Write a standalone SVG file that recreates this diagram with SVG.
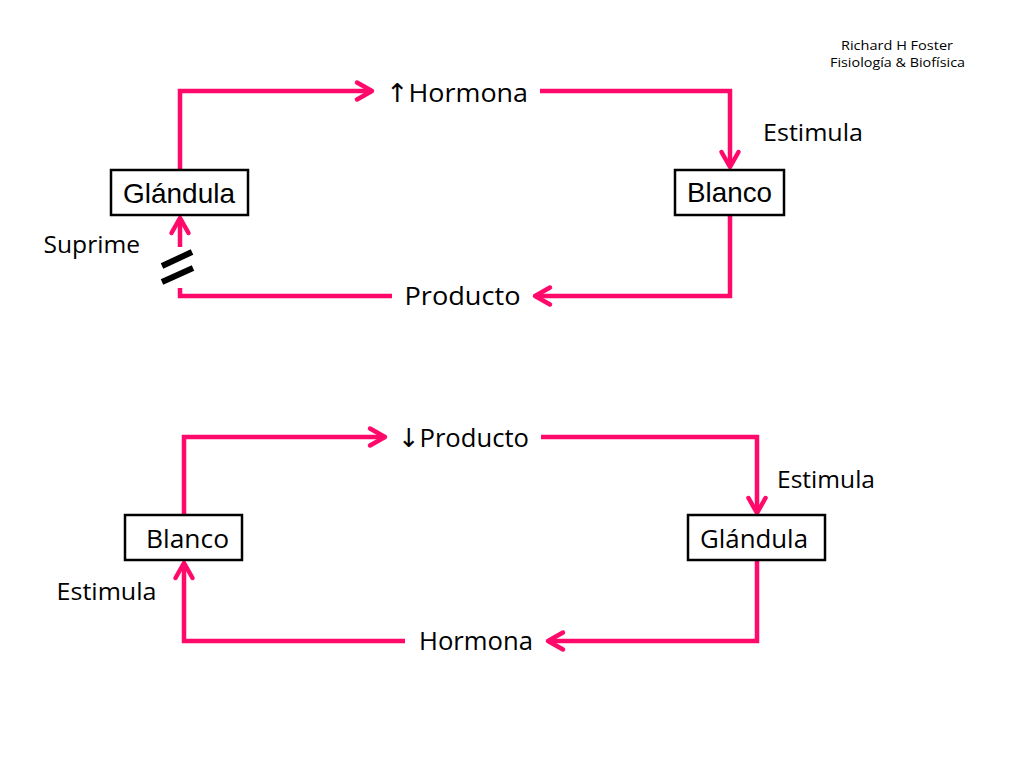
<svg xmlns="http://www.w3.org/2000/svg" width="1024" height="768" viewBox="0 0 1024 768">
  <style>
    .box { fill: #ffffff; stroke: #000000; stroke-width: 2.5; }
    .helv { font-family: "Liberation Sans", Arial, sans-serif; font-size: 28px; fill: #000000; }
    .comic { font-family: "Open Sans", "DejaVu Sans", sans-serif; fill: #000000; }
    .conn { fill: none; stroke: #FF0A6A; stroke-width: 4.5; stroke-linejoin: miter; }
    .hash { stroke: #000000; stroke-width: 6; }
  </style>
  <defs>
    <marker id="ah" markerUnits="userSpaceOnUse" markerWidth="40" markerHeight="40" viewBox="-20 -20 40 40" refX="0" refY="0" orient="auto" overflow="visible">
      <path d="M-15 -8.5 L0 0 L-15 8.5" fill="none" stroke="#FF0A6A" stroke-width="4.5" stroke-linecap="round" stroke-linejoin="round"/>
    </marker>
  </defs>
  <rect width="1024" height="768" fill="#ffffff"/>

  <g id="credit">
    <text class="comic" x="897" y="49.5" font-size="12.5" text-anchor="middle" textLength="112" lengthAdjust="spacingAndGlyphs">Richard H Foster</text>
    <text class="comic" x="897.5" y="67" font-size="12.5" text-anchor="middle" textLength="135" lengthAdjust="spacingAndGlyphs">Fisiología &amp; Biofísica</text>
  </g>

  <g id="connectors">
    <path class="conn" d="M180 170 V91 H372" marker-end="url(#ah)"/>
    <path class="conn" d="M540 91 H730 V167" marker-end="url(#ah)"/>
    <path class="conn" d="M730 215 V296 H535" marker-end="url(#ah)"/>
    <path class="conn" d="M392 296 H180 V288"/>
    <path class="conn" d="M180 247 V218" marker-end="url(#ah)"/>
    <line class="hash" x1="162" y1="266" x2="192" y2="252"/>
    <line class="hash" x1="162" y1="282" x2="193" y2="268"/>

    <path class="conn" d="M184 515 V437 H385" marker-end="url(#ah)"/>
    <path class="conn" d="M541 437 H757 V513" marker-end="url(#ah)"/>
    <path class="conn" d="M757 560 V641 H548" marker-end="url(#ah)"/>
    <path class="conn" d="M405 641 H184 V563" marker-end="url(#ah)"/>
  </g>

  <g id="glandula-top">
    <rect class="box" x="111" y="170" width="137" height="45"/>
    <text class="helv" x="123" y="203" textLength="112" lengthAdjust="spacingAndGlyphs">Glándula</text>
  </g>
  <g id="blanco-top">
    <rect class="box" x="675" y="170" width="109" height="45"/>
    <text class="helv" x="687" y="202" textLength="85" lengthAdjust="spacingAndGlyphs">Blanco</text>
  </g>
  <g id="hormona-up">
    <text class="comic" x="386" y="102" font-size="26" textLength="142" lengthAdjust="spacingAndGlyphs">↑Hormona</text>
  </g>
  <g id="producto-top">
    <text class="comic" x="404.5" y="305" font-size="26" textLength="116" lengthAdjust="spacingAndGlyphs">Producto</text>
  </g>
  <g id="labels-top">
    <text class="comic" x="763" y="141" font-size="24" textLength="100" lengthAdjust="spacingAndGlyphs">Estimula</text>
    <text class="comic" x="43.5" y="253" font-size="23" textLength="96.5" lengthAdjust="spacingAndGlyphs">Suprime</text>
  </g>

  <g id="blanco-bottom">
    <rect class="box" x="125" y="515" width="117" height="45"/>
    <text class="comic" x="146" y="548" font-size="26" textLength="83" lengthAdjust="spacingAndGlyphs">Blanco</text>
  </g>
  <g id="glandula-bottom">
    <rect class="box" x="688" y="515" width="137" height="45"/>
    <text class="comic" x="700" y="548" font-size="26" textLength="108" lengthAdjust="spacingAndGlyphs">Glándula</text>
  </g>
  <g id="producto-down">
    <text class="comic" x="398" y="447" font-size="26" textLength="131" lengthAdjust="spacingAndGlyphs">↓Producto</text>
  </g>
  <g id="hormona-bottom">
    <text class="comic" x="419" y="650" font-size="26" textLength="114" lengthAdjust="spacingAndGlyphs">Hormona</text>
  </g>
  <g id="labels-bottom">
    <text class="comic" x="777" y="488" font-size="24" textLength="98" lengthAdjust="spacingAndGlyphs">Estimula</text>
    <text class="comic" x="56.5" y="600" font-size="24" textLength="100" lengthAdjust="spacingAndGlyphs">Estimula</text>
  </g>
</svg>
